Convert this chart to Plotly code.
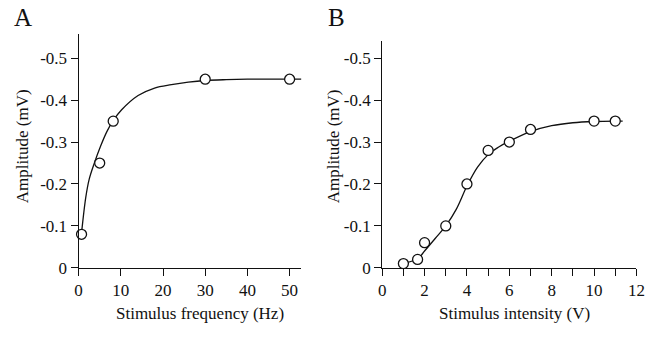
import plotly.graph_objects as go

# ---- Data ----
# Panel A: amplitude vs stimulus frequency
freq_hz = [0.7, 5, 8.2, 30, 50]
freq_amp_mv = [-0.08, -0.25, -0.35, -0.45, -0.45]
# fitted curve A
fitA_x = [0.7, 1.7, 2.5, 3.7, 5.2, 6.7, 8.1, 10.2, 14.1, 18, 22, 26, 30, 35, 40, 45, 50, 52.8]
fitA_y = [-0.083, -0.168, -0.211, -0.249, -0.29, -0.325, -0.35, -0.377, -0.411, -0.429, -0.437,
          -0.443, -0.447, -0.449, -0.45, -0.45, -0.45, -0.45]

# Panel B: amplitude vs stimulus intensity
int_v = [1, 1.67, 2, 3, 4, 5, 6, 7, 10, 11]
int_amp_mv = [-0.01, -0.02, -0.06, -0.10, -0.20, -0.28, -0.30, -0.33, -0.35, -0.35]
fitB_x = [1.0, 1.68, 2.0, 2.5, 3.0, 3.5, 4.0, 4.5, 5.0, 5.5, 6.0, 7.0, 8.0, 9.0, 10.0, 11.0, 11.35]
fitB_y = [-0.01, -0.022, -0.04, -0.07, -0.10, -0.14, -0.195, -0.24, -0.27, -0.288, -0.302,
          -0.325, -0.339, -0.346, -0.349, -0.35, -0.35]

y_ticks = [0, -0.1, -0.2, -0.3, -0.4, -0.5]
y_ticktext = ["0", "-0.1", "-0.2", "-0.3", "-0.4", "-0.5"]
xA_ticks = [0, 10, 20, 30, 40, 50]
xB_ticks = [0, 2, 4, 6, 8, 10, 12]

W, H = 652, 337
FONT = "Liberation Serif, Times New Roman, serif"

def px_x(p):
    return p / W

def px_y(p):
    return 1 - p / H

fig = go.Figure()

line_style = dict(color="#111", width=1.3)
marker_style = dict(symbol="circle", size=10, color="white", line=dict(color="#111", width=1.3))

fig.add_trace(go.Scatter(x=fitA_x, y=fitA_y, mode="lines", line=line_style, line_shape="spline",
                         xaxis="x", yaxis="y", showlegend=False, hoverinfo="skip"))
fig.add_trace(go.Scatter(x=freq_hz, y=freq_amp_mv, mode="markers", marker=marker_style,
                         xaxis="x", yaxis="y", showlegend=False, cliponaxis=False))
fig.add_trace(go.Scatter(x=fitB_x, y=fitB_y, mode="lines", line=line_style, line_shape="spline",
                         xaxis="x2", yaxis="y2", showlegend=False, hoverinfo="skip"))
fig.add_trace(go.Scatter(x=int_v, y=int_amp_mv, mode="markers", marker=marker_style,
                         xaxis="x2", yaxis="y2", showlegend=False, cliponaxis=False))

axis_common = dict(showline=True, linecolor="#111", linewidth=1.2, ticks="outside", ticklen=7,
                   tickwidth=1.2, tickcolor="#111", showgrid=False, zeroline=False,
                   ticklabeloverflow="allow",
                   tickfont=dict(family=FONT, size=17, color="#111"))

fig.update_layout(
    width=W, height=H,
    margin=dict(l=0, r=0, t=0, b=0),
    paper_bgcolor="white", plot_bgcolor="white",
    xaxis=dict(domain=[px_x(76), px_x(303)], range=[0, 52.8], tickvals=xA_ticks,
               anchor="y", **axis_common),
    yaxis=dict(domain=[px_y(276), px_y(35)], range=[0, -0.558], tickvals=y_ticks,
               ticktext=y_ticktext, anchor="x", **axis_common),
    xaxis2=dict(domain=[px_x(385.3), px_x(644.3)], range=[0, 12], tickvals=xB_ticks,
                minor=dict(dtick=1, tick0=0, ticks="outside", ticklen=7, tickwidth=1.2, tickcolor="#111"),
                anchor="y2", **axis_common),
    yaxis2=dict(domain=[px_y(276), px_y(42.7)], range=[0, -0.54], tickvals=y_ticks,
                ticktext=y_ticktext, anchor="x2", **axis_common),
    font=dict(family=FONT, size=17, color="#111"),
)

ann = []
ann.append(dict(text="A", x=px_x(19), y=px_y(18), xref="paper", yref="paper", showarrow=False,
                font=dict(family=FONT, size=25, color="#111"), xanchor="center", yanchor="middle"))
ann.append(dict(text="B", x=px_x(339), y=px_y(18), xref="paper", yref="paper", showarrow=False,
                font=dict(family=FONT, size=25, color="#111"), xanchor="center", yanchor="middle"))
ann.append(dict(text="Stimulus frequency (Hz)", x=px_x(200), y=px_y(323), xref="paper", yref="paper",
                showarrow=False, font=dict(family=FONT, size=17, color="#111"),
                xanchor="center", yanchor="middle"))
ann.append(dict(text="Stimulus intensity (V)", x=px_x(520), y=px_y(323), xref="paper", yref="paper",
                showarrow=False, font=dict(family=FONT, size=17, color="#111"),
                xanchor="center", yanchor="middle"))
ann.append(dict(text="Amplitude (mV)", x=px_x(19), y=px_y(151), xref="paper", yref="paper",
                showarrow=False, textangle=-90, font=dict(family=FONT, size=17, color="#111"),
                xanchor="center", yanchor="middle"))
ann.append(dict(text="Amplitude (mV)", x=px_x(336), y=px_y(151), xref="paper", yref="paper",
                showarrow=False, textangle=-90, font=dict(family=FONT, size=17, color="#111"),
                xanchor="center", yanchor="middle"))
fig.update_layout(annotations=ann)

fig.write_html("out.html", config={"displayModeBar": False},
               post_script="document.body.style.margin='0';document.body.style.overflow='hidden';")
